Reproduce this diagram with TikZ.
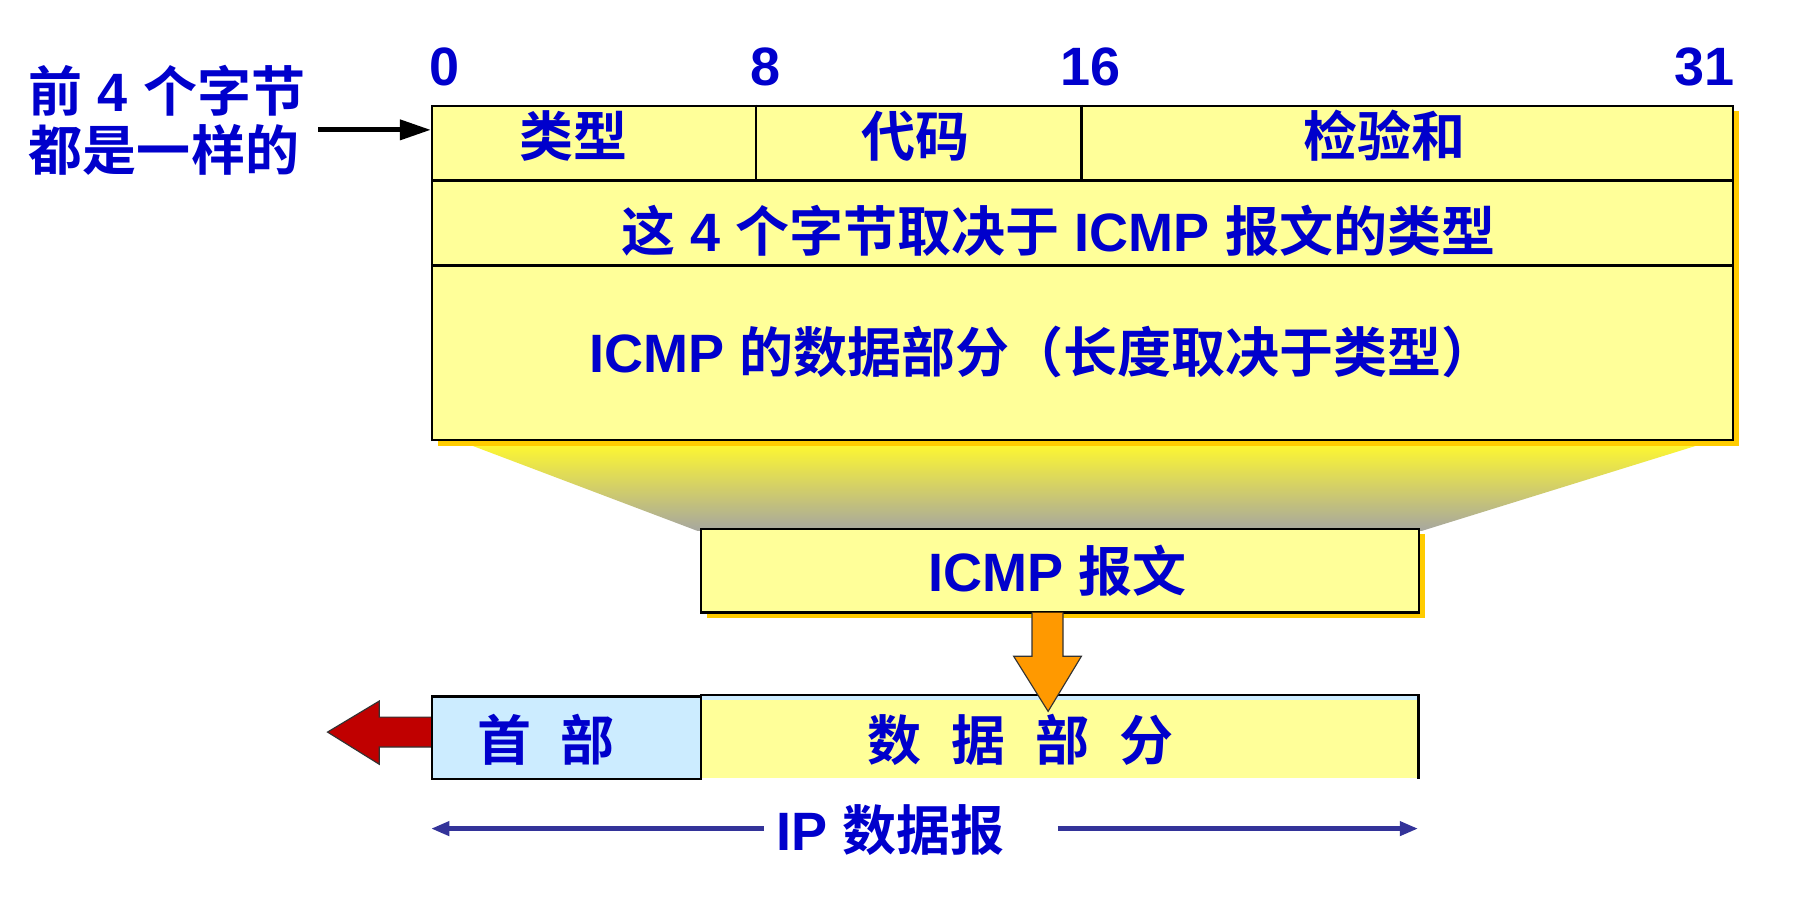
\documentclass[tikz,border=0pt]{standalone}
\usepackage{fontspec}
\setmainfont{Liberation Sans}
\newfontfamily\cjkf{Noto Sans CJK SC}[BoldFont={Noto Sans CJK SC Bold}]
\newcommand{\C}[1]{{\cjkf\bfseries #1}}
\newcommand{\gap}{\hspace{0.55em}}
\usetikzlibrary{arrows.meta,shadows,calc}
\definecolor{txtblue}{HTML}{0000CC}
\definecolor{boxyellow}{HTML}{FFFF99}
\definecolor{shadowc}{HTML}{FFCC00}
\definecolor{hdrblue}{HTML}{CCECFF}
\definecolor{navyc}{HTML}{333399}
\definecolor{orangec}{HTML}{FF9900}
\definecolor{darkredc}{HTML}{C00000}
\definecolor{funtop}{HTML}{FFF830}
\definecolor{funbot}{HTML}{A6A6A0}
\begin{document}
\begin{tikzpicture}[x=1pt,y=-1pt,
  lbl/.style={text=txtblue, font=\fontsize{47}{51}\selectfont\bfseries, inner sep=0pt, anchor=base},
  ybox/.style={draw=black, line width=2pt, fill=boxyellow, inner sep=0pt, anchor=north west,
    drop shadow={shadow xshift=5pt, shadow yshift=-5pt, fill=shadowc, opacity=1}},
  rule/.style={draw=black, line width=2pt},
  blkarrow/.style={draw=black, line width=4.5pt, -{Triangle[length=27pt,width=17pt]}},
  iparrow/.style={draw=navyc, line width=5pt, -{Triangle[length=16pt,width=12pt]}},
  blockarrow/.style={draw=black!80, line width=1pt, line join=miter}
]
\useasboundingbox (0,0) rectangle (1568,798);

% funnel
\shade[top color=funtop, bottom color=funbot] (406,386) -- (1482,386) -- (1237,462) -- (607,462) -- cycle;

% main ICMP format box
\node[ybox, minimum width=1132pt, minimum height=291pt] (main) at (375,91) {};
\draw[rule] (main.west |- 0,157) -- (main.east |- 0,157);
\draw[rule] (main.west |- 0,231) -- (main.east |- 0,231);
\draw[rule] (658,91) -- (658,157);
\draw[rule] (941,91) -- (941,157);

% bit numbers
\node[lbl] (n0) at (387,74) {0};
\node[lbl] (n8) at (666,74) {8};
\node[lbl] (n16) at (949,74) {16};
\node[lbl] (n31) at (1483,74) {31};

% field texts
\node[lbl] (ftype) at (499,136) {\C{类型}};
\node[lbl] (fcode) at (797,136) {\C{代码}};
\node[lbl] (fsum) at (1205,136) {\C{检验和}};
\node[lbl] (frow2) at (921,219) {\C{这} 4 \C{个字节取决于} ICMP \C{报文的类型}};
\node[lbl] (frow3) at (907,324) {ICMP \C{的数据部分（长度取决于类型）}};

% left label
\node[lbl, anchor=base west] (lab1) at (25,97) {\C{前} 4 \C{个字节}};
\node[lbl, anchor=base west] (lab2) at (25,148) {\C{都是一样的}};
\coordinate (la) at (277,113);
\draw[blkarrow] (la) -- (main.west |- la);

% ICMP message box
\node[ybox, minimum width=625pt, minimum height=73pt] (icmp) at (609,459) {};
\node[lbl] (icmpt) at (920,515) {ICMP \C{报文}};

% IP datagram
\node[fill=boxyellow, minimum width=625pt, minimum height=72pt, inner sep=0pt, anchor=north west] (data) at (609,605) {};
\fill[hdrblue] (data.north west) rectangle ([yshift=-4pt]data.north east);
\draw[rule] (data.north west) -- (data.north east) -- (data.south east);
\node[draw=black, line width=2pt, fill=hdrblue, minimum width=234pt, minimum height=72pt, inner sep=0pt, anchor=north west] (hdr) at (375,605) {};
\node[lbl] (hdrt) at (475,662) {\C{首\gap 部}};
\node[lbl] (datat) at (888,662) {\C{数\gap 据\gap 部\gap 分}};

% orange arrow from ICMP box to data part
\draw[blockarrow, fill=orangec] (898,533) -- (898,571) -- (882,571) -- (912,619) -- (941,571) -- (925,571) -- (925,533);

% red arrow
\draw[blockarrow, fill=darkredc] (375,624) -- (330,624) -- (330,610) -- (285,637) -- (330,665) -- (330,650) -- (375,650);

% IP datagram span
\node[lbl] (ipt) at (775,740) {IP \C{数据报}};
\coordinate (ipl) at (375,721);
\coordinate (ipr) at (1234,721);
\draw[iparrow] ([xshift=-11pt]ipt.west |- ipl) -- (ipl);
\draw[iparrow] ([xshift=46pt]ipt.east |- ipr) -- (ipr);
\end{tikzpicture}
\end{document}
